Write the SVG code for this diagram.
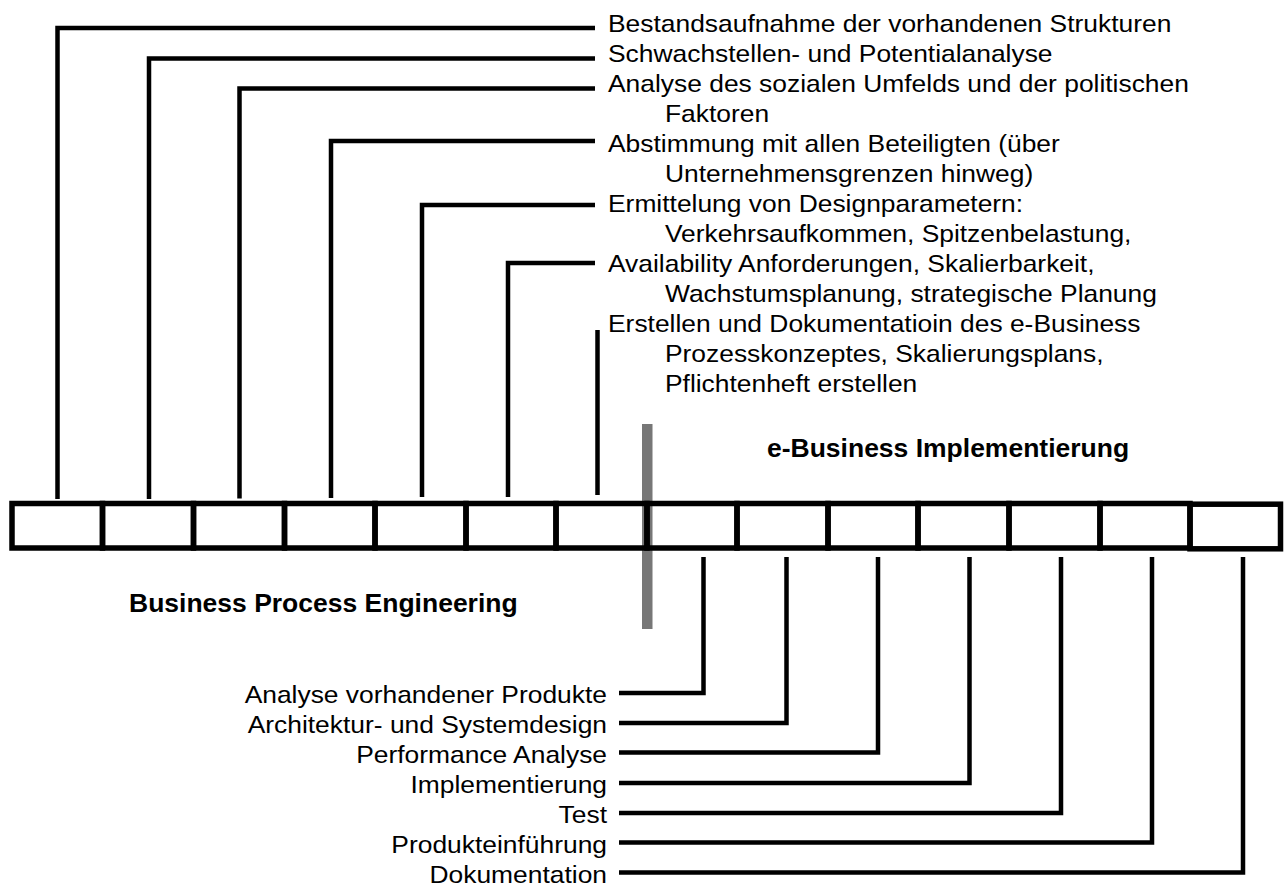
<svg xmlns="http://www.w3.org/2000/svg" width="1288" height="888" viewBox="0 0 1288 888">
<style>
.t{font-family:"Liberation Sans",Arial,sans-serif;font-size:24px;fill:#000}
.b{font-family:"Liberation Sans",Arial,sans-serif;font-size:25px;font-weight:bold;fill:#000}
.c{fill:none;stroke:#000;stroke-width:4.5;stroke-linejoin:miter;stroke-linecap:butt}
.cell{fill:none;stroke:#000;stroke-width:5.5}
.r{text-anchor:end}
</style>
<rect width="1288" height="888" fill="#fff"/>
<g id="divider"><rect x="642" y="424" width="10.5" height="205" fill="#777"/></g>
<g id="bar">
<g id="cell1"><rect class="cell" x="12" y="503.5" width="90.5" height="44.5"/></g>
<g id="cell2"><rect class="cell" x="102.5" y="503.5" width="91" height="44.5"/></g>
<g id="cell3"><rect class="cell" x="193.5" y="503.5" width="91" height="44.5"/></g>
<g id="cell4"><rect class="cell" x="284.5" y="503.5" width="90.5" height="44.5"/></g>
<g id="cell5"><rect class="cell" x="375" y="503.5" width="91" height="44.5"/></g>
<g id="cell6"><rect class="cell" x="466" y="503.5" width="90" height="44.5"/></g>
<g id="cell7"><rect class="cell" x="556" y="503.5" width="91" height="44.5"/></g>
<g id="cell8"><rect class="cell" x="647" y="503.5" width="90" height="44.5"/></g>
<g id="cell9"><rect class="cell" x="737" y="503.5" width="91" height="44.5"/></g>
<g id="cell10"><rect class="cell" x="828" y="503.5" width="90" height="44.5"/></g>
<g id="cell11"><rect class="cell" x="918" y="503.5" width="91" height="44.5"/></g>
<g id="cell12"><rect class="cell" x="1009" y="503.5" width="91" height="44.5"/></g>
<g id="cell13"><rect class="cell" x="1100" y="503.5" width="90" height="44.5"/></g>
<g id="cell14"><rect class="cell" x="1190" y="504.2" width="90.5" height="44.6"/></g>
</g>
<g id="connectors">
<path class="c" d="M595 28 H57.5 V499"/>
<path class="c" d="M595 58.5 H149 V499"/>
<path class="c" d="M595 88.5 H239.5 V498.5"/>
<path class="c" d="M595 141 H331 V498"/>
<path class="c" d="M595 205 H422 V497"/>
<path class="c" d="M595 263 H508 V497"/>
<path class="c" d="M597.5 330 V495"/>
<path class="c" d="M703.5 557 V693 H619"/>
<path class="c" d="M786.5 557 V723 H619"/>
<path class="c" d="M878 557 V752.5 H619"/>
<path class="c" d="M969.5 557 V783 H619"/>
<path class="c" d="M1061 557 V813 H619"/>
<path class="c" d="M1152 557 V842.5 H619"/>
<path class="c" d="M1243 557 V872.5 H619"/>
</g>
<g transform="translate(608 0) scale(1.1 1)">
<g id="top1"><text class="t" x="0" y="32.5">Bestandsaufnahme der vorhandenen Strukturen</text></g>
<g id="top2"><text class="t" x="0" y="62.5">Schwachstellen- und Potentialanalyse</text></g>
<g id="top3"><text class="t" x="0" y="92.5">Analyse des sozialen Umfelds und der politischen</text><text class="t" x="51.8" y="122.5">Faktoren</text></g>
<g id="top4"><text class="t" x="0" y="152.5">Abstimmung mit allen Beteiligten (über</text><text class="t" x="51.8" y="182.5">Unternehmensgrenzen hinweg)</text></g>
<g id="top5"><text class="t" x="0" y="212.5">Ermittelung von Designparametern:</text><text class="t" x="51.8" y="242.5">Verkehrsaufkommen, Spitzenbelastung,</text></g>
<g id="top6"><text class="t" x="0" y="272.5">Availability Anforderungen, Skalierbarkeit,</text><text class="t" x="51.8" y="302.5">Wachstumsplanung, strategische Planung</text></g>
<g id="top7"><text class="t" x="0" y="332.5">Erstellen und Dokumentatioin des e-Business</text><text class="t" x="51.8" y="362.5">Prozesskonzeptes, Skalierungsplans,</text><text class="t" x="51.8" y="392.5">Pflichtenheft erstellen</text></g>
</g>
<g transform="translate(607 0) scale(1.1 1)">
<g id="bot1"><text class="t r" x="0" y="703">Analyse vorhandener Produkte</text></g>
<g id="bot2"><text class="t r" x="0" y="733">Architektur- und Systemdesign</text></g>
<g id="bot3"><text class="t r" x="0" y="763">Performance Analyse</text></g>
<g id="bot4"><text class="t r" x="0" y="793">Implementierung</text></g>
<g id="bot5"><text class="t r" x="0" y="823">Test</text></g>
<g id="bot6"><text class="t r" x="0" y="853">Produkteinführung</text></g>
<g id="bot7"><text class="t r" x="0" y="883">Dokumentation</text></g>
</g>
<g id="label-bpe" transform="translate(129 611.5) scale(1.06 1)"><text class="b" x="0" y="0">Business Process Engineering</text></g>
<g id="label-ebi" transform="translate(767 456.5) scale(1.06 1)"><text class="b" x="0" y="0">e-Business Implementierung</text></g>
</svg>
